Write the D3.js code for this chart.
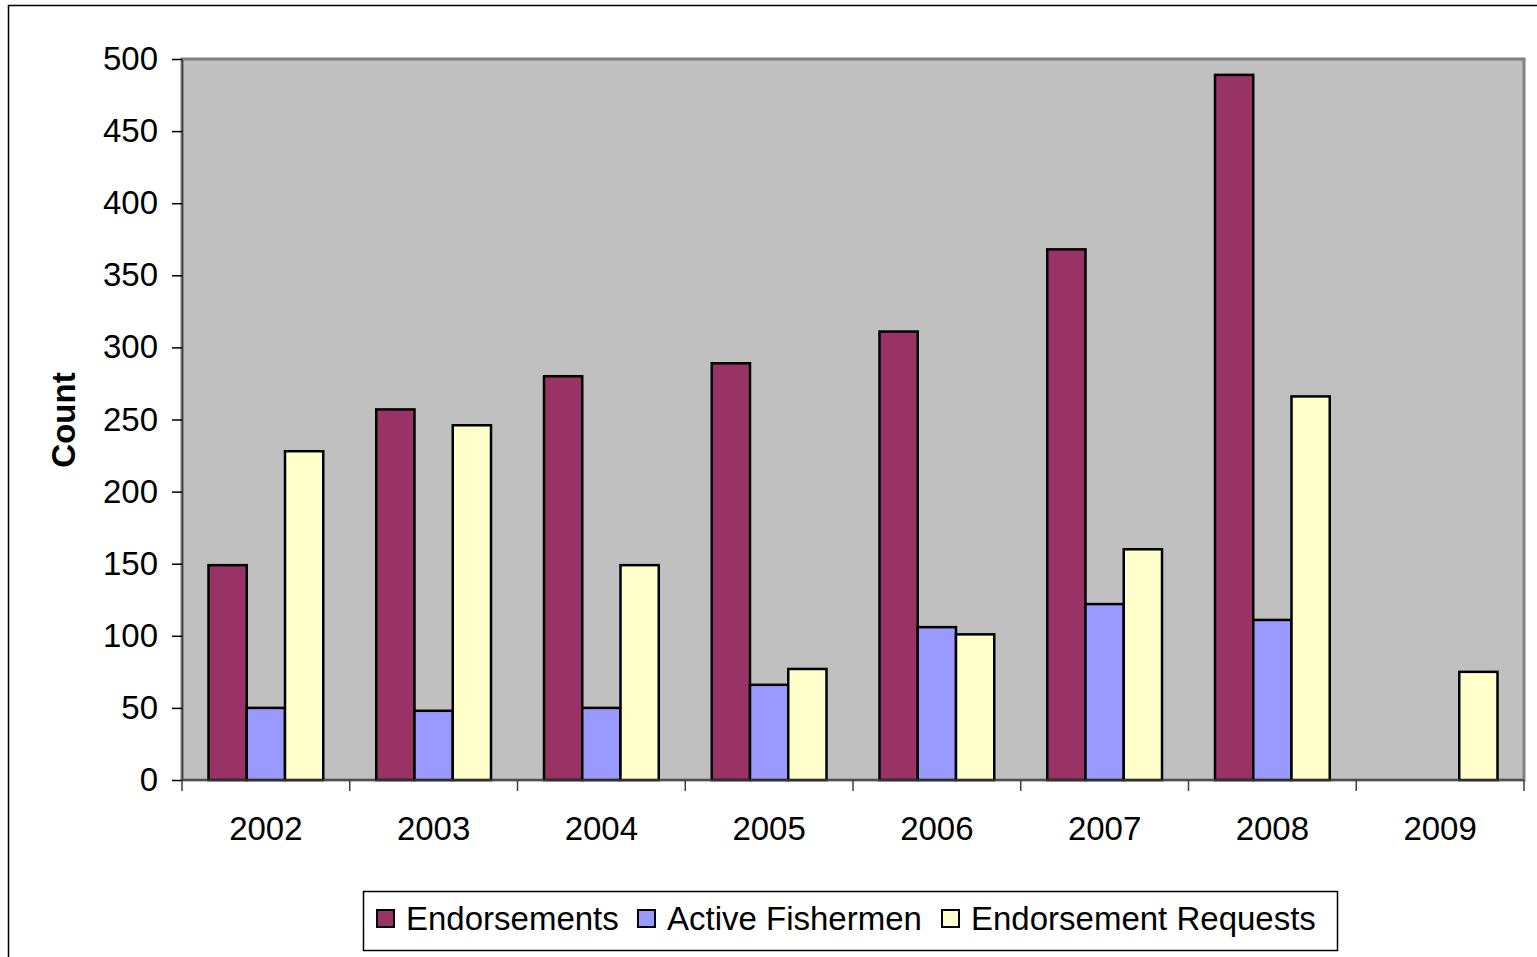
<!DOCTYPE html>
<html>
<head>
<meta charset="utf-8">
<script src="https://cdn.jsdelivr.net/npm/d3@7"></script>
<style>
  body { margin: 0; background: #fff; }
  svg text { font-family: "Liberation Sans", Arial, sans-serif; fill: #000; }
</style>
</head>
<body>
<svg width="1537" height="957"></svg>
<script>
// data
const years = ["2002", "2003", "2004", "2005", "2006", "2007", "2008", "2009"];
const endorsements = [149, 257, 280, 289, 311, 368, 489, null];
const activeFishermen = [50, 48, 50, 66, 106, 122, 111, null];
const endorsementRequests = [228, 246, 149, 77, 101, 160, 266, 75];
const seriesNames = ["Endorsements", "Active Fishermen", "Endorsement Requests"];
const seriesColors = ["#993366", "#9999FF", "#FFFFCC"];
const yTicks = [0, 50, 100, 150, 200, 250, 300, 350, 400, 450, 500];

let svg = d3.select("svg");
let plot = {left: 182, right: 1524, top: 59, bottom: 780};
let fontSize = 33;

// outer chart border (runs off the page on right and bottom)
svg.append("rect")
    .attr("x", 8.5).attr("y", 5.5)
    .attr("width", 1600).attr("height", 1000)
    .attr("fill", "#fff")
    .attr("stroke", "#000")
    .attr("stroke-width", 1.5);

let x = d3.scaleBand()
    .domain(years)
    .range([plot.left, plot.right]);

let series = [endorsements, activeFishermen, endorsementRequests];
let groupPad = 26.5;
let xInner = d3.scaleBand()
    .domain(d3.range(series.length))
    .range([groupPad, x.bandwidth() - groupPad]);

let y = d3.scaleLinear()
    .domain([0, 500])
    .range([plot.bottom, plot.top]);

// plot background
svg.append("rect")
    .attr("x", plot.left).attr("y", plot.top)
    .attr("width", plot.right - plot.left)
    .attr("height", plot.bottom - plot.top)
    .attr("fill", "#C0C0C0")
    .attr("stroke", "#808080")
    .attr("stroke-width", 3);

// bars
let rows = [];
years.forEach((yr, i) => {
    series.forEach((s, j) => {
        if (s[i] != null) rows.push({year: yr, s: j, value: s[i]});
    });
});

svg.append("g").selectAll("rect")
    .data(rows)
    .enter().append("rect")
    .attr("x", d => x(d.year) + xInner(d.s))
    .attr("y", d => y(d.value))
    .attr("width", xInner.bandwidth())
    .attr("height", d => y(0) - y(d.value))
    .attr("fill", d => seriesColors[d.s])
    .attr("stroke", "#000")
    .attr("stroke-width", 2.5);

// y axis
let yAxis = svg.append("g")
    .attr("transform", `translate(${plot.left},0)`)
    .call(d3.axisLeft(y).tickValues(yTicks).tickSize(10).tickSizeOuter(0).tickPadding(14));
yAxis.select(".domain").attr("stroke", "#404040").attr("stroke-width", 1.5);
yAxis.selectAll(".tick line").attr("stroke", "#000").attr("stroke-width", 1.5);
yAxis.selectAll(".tick text")
    .attr("font-size", fontSize)
    .attr("font-family", "Liberation Sans, Arial, sans-serif")
    .attr("fill", "#000");

// x axis: ticks at category boundaries
let xAxisG = svg.append("g")
    .attr("transform", `translate(0,${plot.bottom})`);
xAxisG.append("line")
    .attr("x1", plot.left).attr("x2", plot.right)
    .attr("stroke", "#404040").attr("stroke-width", 1.5);
let boundaries = years.map(yr => x(yr)).concat([plot.right]);
xAxisG.selectAll("line.tick")
    .data(boundaries)
    .enter().append("line")
    .attr("class", "tick")
    .attr("x1", d => d).attr("x2", d => d)
    .attr("y1", 0).attr("y2", 11)
    .attr("stroke", "#404040").attr("stroke-width", 1.5);
xAxisG.selectAll("text")
    .data(years)
    .enter().append("text")
    .attr("x", d => x(d) + x.bandwidth() / 2)
    .attr("y", 60)
    .attr("text-anchor", "middle")
    .attr("font-size", fontSize)
    .text(d => d);

// y axis title
svg.append("text")
    .attr("transform", "translate(75,420) rotate(-90)")
    .attr("text-anchor", "middle")
    .attr("font-size", fontSize)
    .attr("font-weight", "bold")
    .text("Count");

// legend
let legend = svg.append("g");
legend.append("rect")
    .attr("x", 363.5).attr("y", 891.5)
    .attr("width", 974).attr("height", 59)
    .attr("fill", "#fff")
    .attr("stroke", "#000")
    .attr("stroke-width", 1.5);

let legendX = [377, 638, 942];
seriesNames.forEach((name, i) => {
    legend.append("rect")
        .attr("x", legendX[i]).attr("y", 910)
        .attr("width", 17).attr("height", 17)
        .attr("fill", seriesColors[i])
        .attr("stroke", "#000")
        .attr("stroke-width", 2);
    legend.append("text")
        .attr("x", legendX[i] + 29)
        .attr("y", 930)
        .attr("font-size", fontSize)
        .text(name);
});
</script>
</body>
</html>
